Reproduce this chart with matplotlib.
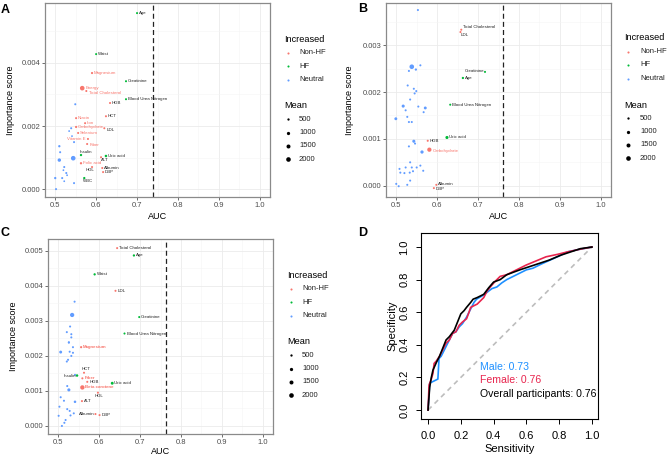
import matplotlib.pyplot as plt
from matplotlib.lines import Line2D

plt.rcParams['font.family'] = ['Liberation Sans', 'DejaVu Sans']

# ---------------- data ----------------
groups = ['Non-HF', 'HF', 'Neutral']
group_colors = {'Non-HF': '#F8766D', 'HF': '#00BA38', 'Neutral': '#619CFF'}
mean_levels = [500, 1000, 1500, 2000]

# panel A
a_names = ['Age', 'Waist', 'Magnesium', 'Creatinine', 'Energy', 'Total Cholesterol',
           'Blood Urea Nitrogen', 'HGB', 'HCT', 'Niacin', 'Iron', 'Carbohydrate',
           'Selenium', 'Vitamin E', 'Fiber', 'LDL', 'Insulin', 'Uric acid', 'ALT',
           'Folic acid', 'HDL', 'Albumin', 'DBP', 'WBC'] + [''] * 18
a_auc = [0.700, 0.600, 0.590, 0.673, 0.566, 0.576, 0.673, 0.634, 0.624, 0.551, 0.573, 0.551,
         0.556, 0.580, 0.578, 0.620, 0.563, 0.624, 0.612, 0.563, 0.590, 0.615, 0.617, 0.571,
         0.549, 0.539, 0.534, 0.541, 0.546, 0.510, 0.512, 0.510, 0.544, 0.522, 0.520, 0.527,
         0.529, 0.517, 0.500, 0.546, 0.502, 0.522]
a_score = [0.00558, 0.00428, 0.00368, 0.00342, 0.00320, 0.00311, 0.00285, 0.00273, 0.00231,
           0.00225, 0.00209, 0.00197, 0.00178, 0.00159, 0.00143, 0.00193, 0.00108, 0.00105,
           0.00101, 0.00082, 0.00070, 0.00067, 0.00054, 0.00035,
           0.00269, 0.00193, 0.00184, 0.00168, 0.00149, 0.00136, 0.00117, 0.00092, 0.00098,
           0.00070, 0.00060, 0.00051, 0.00044, 0.00035, 0.00035, 0.00019, 0.00000, 0.00025]
a_group = (['HF', 'HF', 'Non-HF', 'HF', 'Non-HF', 'Non-HF', 'HF', 'Non-HF', 'Non-HF', 'Non-HF',
            'Non-HF', 'Non-HF', 'Non-HF', 'Non-HF', 'Non-HF', 'Non-HF', 'HF', 'HF', 'Non-HF',
            'Non-HF', 'Non-HF', 'Non-HF', 'Non-HF', 'HF'] + ['Neutral'] * 18)
a_mean = ([400, 400, 450, 400, 2000, 400, 400, 400, 400, 400, 400, 450, 400, 400, 400, 400,
           500, 600, 400, 500, 400, 400, 400, 500] +
          [400, 400, 300, 300, 400, 500, 400, 1100, 2000, 400, 300, 400, 300, 400, 500, 400, 400, 300])
a_red_labels = ['Magnesium', 'Energy', 'Total Cholesterol', 'Niacin', 'Iron', 'Carbohydrate',
                'Selenium', 'Vitamin E', 'Fiber', 'Folic acid']

# panel B
b_names = ['Total Cholesterol', 'LDL', 'Creatinine', 'Age', 'Blood Urea Nitrogen', 'Uric acid',
           'HGB', 'Carbohydrate', 'Albumin', 'DBP'] + [''] * 38
b_auc = [0.659, 0.657, 0.717, 0.663, 0.632, 0.624, 0.577, 0.581, 0.598, 0.592,
         0.553, 0.538, 0.559, 0.548, 0.531, 0.528, 0.543, 0.549, 0.545, 0.534, 0.517, 0.554,
         0.571, 0.523, 0.567, 0.499, 0.527, 0.531, 0.538, 0.543, 0.546, 0.531, 0.563, 0.534,
         0.559, 0.508, 0.523, 0.538, 0.550, 0.510, 0.520, 0.533, 0.541, 0.566, 0.534, 0.527,
         0.500, 0.506]
b_score = [0.00333, 0.00328, 0.00243, 0.00230, 0.00173, 0.00103, 0.00096, 0.00077, 0.00002, -0.00005,
           0.00375, 0.00254, 0.00257, 0.00248, 0.00245, 0.00214, 0.00207, 0.00202, 0.00197, 0.00184,
           0.00170, 0.00169, 0.00166, 0.00161, 0.00157, 0.00143, 0.00147, 0.00136, 0.00136, 0.00095,
           0.00090, 0.00084, 0.00072, 0.00050, 0.00043, 0.00036, 0.00039, 0.00039, 0.00039, 0.00028,
           0.00027, 0.00028, 0.00031, 0.00032, 0.00011, 0.00002, 0.00004, -0.00001]
b_group = (['Non-HF', 'Non-HF', 'HF', 'HF', 'HF', 'HF', 'Non-HF', 'Non-HF', 'Non-HF', 'Non-HF']
           + ['Neutral'] * 38)
b_mean = ([400, 400, 400, 500, 400, 900, 400, 1700, 400, 400] +
          [400, 2000, 400, 500, 400, 400, 400, 400, 400, 400, 900, 400, 800, 400, 400, 800, 400,
           400, 400, 900, 400, 400, 1000, 400, 400, 400, 400, 400, 400, 400, 400, 400, 400, 400,
           400, 400, 400, 400])
b_red_labels = ['Carbohydrate']

# panel C
c_names = ['Total Cholesterol', 'Age', 'Waist', 'LDL', 'Creatinine', 'Blood Urea Nitrogen',
           'Magnesium', 'HCT', 'Insulin', 'Fiber', 'HGB', 'Uric acid', 'Beta carotene', 'HDL',
           'ALT', 'Albumin', 'DBP'] + [''] * 30
c_auc = [0.644, 0.685, 0.589, 0.640, 0.698, 0.662, 0.556, 0.563, 0.546, 0.559, 0.571, 0.632,
         0.559, 0.597, 0.558, 0.591, 0.601,
         0.540, 0.534, 0.529, 0.521, 0.532, 0.532, 0.526, 0.526, 0.536, 0.506, 0.528, 0.536,
         0.524, 0.521, 0.532, 0.541, 0.522, 0.526, 0.506, 0.514, 0.541, 0.503, 0.522, 0.528,
         0.538, 0.530, 0.501, 0.518, 0.515, 0.509]
c_score = [0.00508, 0.00487, 0.00433, 0.00386, 0.00311, 0.00264, 0.00225, 0.00152, 0.00144,
           0.00136, 0.00126, 0.00122, 0.00110, 0.00095, 0.00071, 0.00034, 0.00031,
           0.00355, 0.00317, 0.00284, 0.00268, 0.00262, 0.00253, 0.00239, 0.00238, 0.00225,
           0.00211, 0.00212, 0.00209, 0.00189, 0.00184, 0.00200, 0.00146, 0.00114, 0.00103,
           0.00082, 0.00072, 0.00069, 0.00055, 0.00048, 0.00043, 0.00036, 0.00030, 0.00029,
           0.00017, 0.00009, 0.00000]
c_group = (['Non-HF', 'HF', 'HF', 'Non-HF', 'HF', 'HF', 'Non-HF', 'Non-HF', 'HF', 'Non-HF',
            'Non-HF', 'HF', 'Non-HF', 'Non-HF', 'Non-HF', 'Non-HF', 'Non-HF'] + ['Neutral'] * 30)
c_mean = ([400, 500, 500, 400, 400, 400, 450, 400, 600, 400, 400, 800, 1800, 400, 400, 400, 400] +
          [400, 1700, 400, 400, 400, 400, 400, 400, 400, 800, 400, 400, 400, 400, 400, 400, 400,
           900, 400, 400, 600, 400, 400, 400, 400, 400, 400, 400, 400, 400])
c_red_labels = ['Magnesium', 'Fiber', 'Beta carotene']

# panel D: ROC curves (sensitivity, specificity as labelled in the figure)
overall_x = [0.0, 0.01, 0.02, 0.03, 0.05, 0.07, 0.09, 0.11, 0.13, 0.16, 0.18, 0.20, 0.22, 0.235,
             0.26, 0.275, 0.30, 0.34, 0.37, 0.40, 0.44, 0.48, 0.52, 0.56, 0.62, 0.68, 0.74,
             0.81, 0.87, 0.93, 1.0]
overall_y = [0.0, 0.14, 0.20, 0.245, 0.29, 0.33, 0.38, 0.43, 0.45, 0.49, 0.54, 0.59, 0.61, 0.63,
             0.66, 0.68, 0.69, 0.71, 0.75, 0.785, 0.80, 0.83, 0.845, 0.86, 0.88, 0.90, 0.92,
             0.95, 0.97, 0.99, 1.0]
female_x = [0.0, 0.006, 0.02, 0.03, 0.037, 0.05, 0.07, 0.09, 0.11, 0.13, 0.15, 0.17, 0.19, 0.21,
            0.235, 0.25, 0.26, 0.28, 0.30, 0.32, 0.34, 0.36, 0.38, 0.41, 0.44, 0.48, 0.52, 0.56,
            0.60, 0.66, 0.72, 0.79, 0.85, 0.92, 1.0]
female_y = [0.0, 0.153, 0.19, 0.225, 0.286, 0.30, 0.33, 0.37, 0.41, 0.43, 0.47, 0.48, 0.52, 0.54,
            0.56, 0.60, 0.63, 0.64, 0.65, 0.67, 0.69, 0.73, 0.755, 0.79, 0.82, 0.83, 0.85, 0.87,
            0.89, 0.915, 0.94, 0.955, 0.97, 0.985, 1.0]
male_x = [0.0, 0.01, 0.02, 0.04, 0.06, 0.067, 0.08, 0.09, 0.11, 0.13, 0.15, 0.17, 0.19, 0.21,
          0.235, 0.25, 0.265, 0.28, 0.296, 0.33, 0.357, 0.39, 0.42, 0.45, 0.48, 0.52, 0.56, 0.60,
          0.64, 0.69, 0.745, 0.80, 0.85, 0.92, 1.0]
male_y = [0.0, 0.163, 0.17, 0.18, 0.19, 0.316, 0.33, 0.35, 0.39, 0.43, 0.47, 0.48, 0.51, 0.53,
          0.57, 0.60, 0.63, 0.66, 0.68, 0.70, 0.72, 0.745, 0.755, 0.78, 0.80, 0.82, 0.84, 0.86,
          0.87, 0.895, 0.92, 0.945, 0.97, 0.985, 1.0]
roc_labels = ['Male: 0.73', 'Female: 0.76', 'Overall participants: 0.76']

# ---------------- layout ----------------
W, H = 669, 458
fig = plt.figure(figsize=(W / 100, H / 100), dpi=100)


def px_axes(left, top, right, bottom):
    return fig.add_axes([left / W, 1 - bottom / H, (right - left) / W, (bottom - top) / H])


# label offsets in pixels (dx, dy, ha)
label_offsets = {
    'A': {'Total Cholesterol': (3, -2, 'left'), 'Vitamin E': (-2, 0, 'right'),
          'Fiber': (2, -1, 'left'), 'Insulin': (-1, 3, 'left'), 'ALT': (0, -3, 'left'),
          'HDL': (2, -3, 'right'), 'WBC': (-1, -3, 'left'), 'LDL': (2, -2, 'left'),
          'Energy': (3, 0, 'left')},
    'B': {'Total Cholesterol': (2, 3, 'left'), 'LDL': (0, -3, 'left'),
          'Creatinine': (-1, 1, 'right'), 'Albumin': (2, 1, 'left'), 'DBP': (2, -1, 'left'),
          'Carbohydrate': (3, -1, 'left')},
    'C': {'HCT': (-2, 4, 'left'), 'Insulin': (-1, 0, 'right'), 'HDL': (-3, -3, 'left'),
          'Albumin': (-1, 0, 'right'), 'Beta carotene': (3, 0, 'left')},
}

SIZE_K = 0.0055


def scatter_panel(ax, key, names, auc, score, grp, mean, red_labels, bold_red,
                  yticks, yminor, ylim, vline):
    ax.set_xlim(0.475, 1.025)
    ax.set_ylim(*ylim)
    ax.set_xticks([0.5, 0.6, 0.7, 0.8, 0.9, 1.0])
    ax.set_xticks([0.55, 0.65, 0.75, 0.85, 0.95], minor=True)
    ax.set_yticks(yticks)
    ax.set_yticks(yminor, minor=True)
    ax.set_xticklabels(['0.5', '0.6', '0.7', '0.8', '0.9', '1.0'])
    ax.set_yticklabels(['%.3f' % t for t in yticks])
    ax.grid(which='major', color='#ebebeb', lw=0.6)
    ax.grid(which='minor', color='#f5f5f5', lw=0.4)
    ax.set_axisbelow(True)
    for s in ax.spines.values():
        s.set_color('#8a8a8a')
        s.set_linewidth(0.9)
    ax.tick_params(which='major', labelsize=5.5, labelcolor='#4d4d4d', length=2,
                   width=0.5, color='#333333', pad=1.5)
    ax.tick_params(which='minor', length=0)

    for g in ['Neutral', 'Non-HF', 'HF']:
        idx = [i for i in range(len(auc)) if grp[i] == g]
        ax.scatter([auc[i] for i in idx], [score[i] for i in idx],
                   s=[mean[i] * SIZE_K for i in idx], color=group_colors[g],
                   linewidths=0, zorder=3)

    offs = label_offsets.get(key, {})
    for i, n in enumerate(names):
        if not n:
            continue
        dx, dy, ha = offs.get(n, (2, 0, 'left'))
        red = n in red_labels
        ax.annotate(n, (auc[i], score[i]), xytext=(dx, dy), textcoords='offset pixels',
                    ha=ha, va='center', fontsize=3.2,
                    color='#F8766D' if red else '#222222',
                    fontweight='bold' if (red and bold_red) else 'normal', zorder=4)

    ax.axvline(vline, color='#222222', lw=0.9, dashes=(4, 2.5), zorder=2)
    ax.set_xlabel('AUC', fontsize=6.5)
    ax.set_ylabel('Importance score', fontsize=6.5)


axA = px_axes(45, 3, 270, 197)
scatter_panel(axA, 'A', a_names, a_auc, a_score, a_group, a_mean, a_red_labels, False,
              [0.0, 0.002, 0.004], [0.001, 0.003, 0.005], (-0.00025, 0.0059), 0.739)
axA.yaxis.set_label_coords(-0.135, 0.5)
axA.xaxis.set_label_coords(0.5, -0.075)

axB = px_axes(386, 3, 611, 197)
scatter_panel(axB, 'B', b_names, b_auc, b_score, b_group, b_mean, b_red_labels, False,
              [0.0, 0.001, 0.002, 0.003], [0.0005, 0.0015, 0.0025, 0.0035],
              (-0.00024, 0.0039), 0.761)
axB.yaxis.set_label_coords(-0.14, 0.5)
axB.xaxis.set_label_coords(0.5, -0.075)

axC = px_axes(48, 239, 273, 434)
scatter_panel(axC, 'C', c_names, c_auc, c_score, c_group, c_mean, c_red_labels, True,
              [0.0, 0.001, 0.002, 0.003, 0.004, 0.005],
              [0.0005, 0.0015, 0.0025, 0.0035, 0.0045], (-0.00023, 0.00534), 0.763)
axC.yaxis.set_label_coords(-0.135, 0.5)
axC.xaxis.set_label_coords(0.5, -0.065)

# ROC panel, base-R look
axD = px_axes(421, 233, 598, 419)
axD.set_xlim(-0.043, 1.037)
axD.set_ylim(-0.055, 1.086)
axD.plot([0, 1], [0, 1], color='#bdbdbd', lw=1.2, dashes=(3, 2.5))
axD.plot(male_x, male_y, color='#1E90FF', lw=1.2)
axD.plot(female_x, female_y, color='#E8254E', lw=1.2)
axD.plot(overall_x, overall_y, color='black', lw=1.2)
roc_colors = ['#1E90FF', '#E8254E', 'black']
for k, (lab, col) in enumerate(zip(roc_labels, roc_colors)):
    axD.text(0.315, 0.265 - k * 0.083, lab, color=col, fontsize=7.6, va='center', ha='left')
ticks = [0.0, 0.2, 0.4, 0.6, 0.8, 1.0]
axD.set_xticks(ticks)
axD.set_yticks(ticks)
axD.set_xticklabels(['%.1f' % t for t in ticks])
axD.set_yticklabels(['%.1f' % t for t in ticks], rotation=90, va='center')
axD.tick_params(labelsize=8, length=3.5, width=0.7, pad=5)
for s in axD.spines.values():
    s.set_linewidth(0.8)
axD.set_xlabel('Sensitivity', fontsize=8, labelpad=2.5)
axD.set_ylabel('Specificity', fontsize=8, labelpad=1)

# ---------------- legends & panel letters (pixel overlay) ----------------
ov = fig.add_axes([0, 0, 1, 1], zorder=10)
ov.set_xlim(0, W)
ov.set_ylim(H, 0)
ov.axis('off')

legend_pos = [(284, 39, 288, 299), (624, 38, 628, 640), (287, 275, 291, 302)]
for tx, ty, dotx, textx in legend_pos:
    ov.text(tx, ty, 'Increased', fontsize=6.6, va='center', ha='left')
    for k, g in enumerate(groups):
        yy = ty + 13.5 * (k + 1)
        ov.add_line(Line2D([dotx], [yy], marker='o', ms=1.5, mew=0, color=group_colors[g]))
        ov.text(textx, yy, g, fontsize=5.5, va='center', ha='left', color='#222222')
    my = ty + 67
    ov.text(tx, my, 'Mean', fontsize=6.6, va='center', ha='left')
    for k, m in enumerate(mean_levels):
        yy = my + 13.3 * (k + 1)
        ov.add_line(Line2D([dotx], [yy], marker='o', ms=(m * SIZE_K) ** 0.5, mew=0,
                           color='black'))
        ov.text(textx, yy, str(m), fontsize=5.5, va='center', ha='left', color='#222222')

for letter, x, y in [('A', 5, 10), ('B', 363, 9), ('C', 5, 233), ('D', 363, 233)]:
    ov.text(x, y, letter, fontsize=9, fontweight='bold', ha='center', va='center')

fig.savefig('out.png', dpi=100)
